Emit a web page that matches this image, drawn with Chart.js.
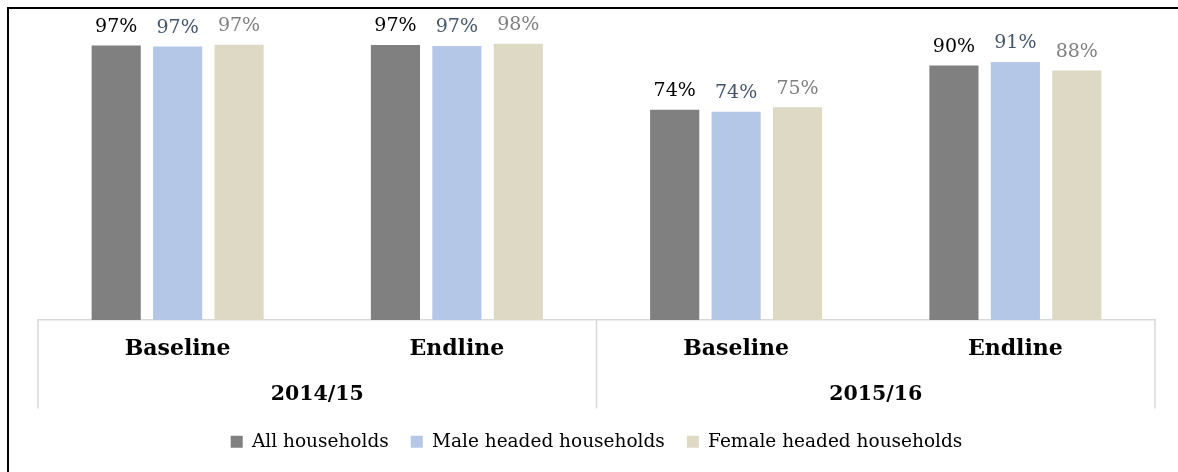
<!DOCTYPE html>
<html>
<head>
<meta charset="utf-8">
<script src="https://cdn.jsdelivr.net/npm/chart.js@4"></script>
<style>
  html, body { margin: 0; padding: 0; background: #fff; overflow: hidden; }
  #wrap { position: relative; width: 1178px; height: 472px; }
</style>
</head>
<body>
<div id="wrap">
  <canvas id="hhChart"></canvas>
</div>
<script>
// categories and values
const rounds = ['Baseline', 'Endline', 'Baseline', 'Endline'];
const years = ['2014/15', '2015/16'];
const allHouseholds = [97.0, 97.2, 74.3, 89.9];
const maleHeaded = [96.6, 96.8, 73.6, 91.2];
const femaleHeaded = [97.3, 97.6, 75.2, 88.2];

const serif = '"DejaVu Serif", serif';

// black frame along top and left edge of the picture
const frame = {
    id: 'frame',
    beforeDraw(chart) {
        const ctx = chart.ctx;
        ctx.save();
        ctx.strokeStyle = '#000';
        ctx.lineWidth = 2;
        ctx.beginPath();
        ctx.moveTo(chart.width, 8);
        ctx.lineTo(8, 8);
        ctx.lineTo(8, chart.height);
        ctx.stroke();
        ctx.restore();
    }
};

// value labels over each bar
const barLabels = {
    id: 'barLabels',
    afterDatasetsDraw(chart) {
        const ctx = chart.ctx;
        ctx.save();
        ctx.font = '19px ' + serif;
        ctx.textAlign = 'center';
        ctx.textBaseline = 'bottom';
        chart.data.datasets.forEach((ds, i) => {
            const meta = chart.getDatasetMeta(i);
            ctx.fillStyle = ds.labelColor;
            meta.data.forEach((bar, j) => {
                ctx.fillText(Math.round(ds.data[j]) + '%', bar.x, bar.y - 9);
            });
        });
        ctx.restore();
    }
};

// box lines round the two-level category axis
const axisBox = {
    id: 'axisBox',
    afterDraw(chart) {
        const ctx = chart.ctx;
        const x2 = chart.scales.x2;
        const top = chart.chartArea.bottom;
        const bottom = x2.bottom - 2;
        const mid = (x2.getPixelForValue(0) + x2.getPixelForValue(1)) / 2;
        ctx.save();
        ctx.strokeStyle = '#d9d9d9';
        ctx.lineWidth = 1.5;
        [x2.left, mid, x2.right].forEach(x => {
            ctx.beginPath();
            ctx.moveTo(x, top);
            ctx.lineTo(x, bottom);
            ctx.stroke();
        });
        ctx.restore();
    }
};

const ctx = document.getElementById('hhChart').getContext('2d');
const hhChart = new Chart(ctx, {
    type: 'bar',
    data: {
        labels: rounds,
        datasets: [
            {
                label: 'All households',
                data: allHouseholds,
                backgroundColor: '#808080',
                labelColor: '#000000'
            },
            {
                label: 'Male headed households',
                data: maleHeaded,
                backgroundColor: '#b4c7e7',
                labelColor: '#44546a'
            },
            {
                label: 'Female headed households',
                data: femaleHeaded,
                backgroundColor: '#ddd9c4',
                labelColor: '#7f7f7f'
            }
        ]
    },
    options: {
        responsive: true,
        maintainAspectRatio: false,
        animation: false,
        categoryPercentage: 0.66,
        barPercentage: 0.8,
        layout: {
            padding: { left: 38, right: 23, top: 37, bottom: 11 }
        },
        scales: {
            x: {
                grid: { display: false, drawTicks: false },
                border: { display: true, color: '#d9d9d9', width: 1.5 },
                ticks: {
                    color: '#000',
                    padding: 18,
                    font: { family: serif, size: 22, weight: 'bold', lineHeight: 1 }
                }
            },
            x2: {
                type: 'category',
                labels: years,
                position: 'bottom',
                offset: true,
                grid: { display: false, drawTicks: false },
                border: { display: false },
                ticks: {
                    color: '#000',
                    padding: 6,
                    font: { family: serif, size: 20.5, weight: 'bold', lineHeight: 1 }
                }
            },
            y: {
                display: false,
                min: 0,
                max: 100
            }
        },
        plugins: {
            legend: {
                position: 'bottom',
                labels: {
                    color: '#000',
                    boxWidth: 12,
                    boxHeight: 12,
                    padding: 22,
                    font: { family: serif, size: 18.5 }
                }
            },
            tooltip: { enabled: false }
        }
    },
    plugins: [frame, barLabels, axisBox]
});
</script>
</body>
</html>
